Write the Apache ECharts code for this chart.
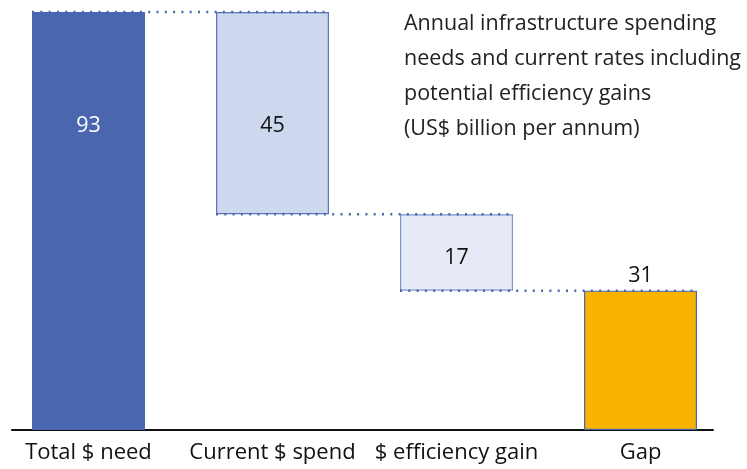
<!DOCTYPE html>
<html>
<head>
<meta charset="utf-8">
<script src="https://cdn.jsdelivr.net/npm/echarts@6/dist/echarts.min.js"></script>
<style>html,body{margin:0;padding:0;background:#fff}#c{width:747px;height:469px}</style>
</head>
<body>
<div id="c"></div>
<script>
var categories = ['Total $ need', 'Current $ spend', '$ efficiency gain', 'Gap'];
var barValues = [93, 45, 17, 31];
var baseValues = [0, 48, 31, 0];
// connectors: [fromCategoryIndex, toCategoryIndex, level]
var connectors = [[0, 1, 93], [1, 2, 48], [2, 3, 31]];
var titleLines = ['Annual infrastructure spending', 'needs and current rates including', 'potential efficiency gains', '(US$ billion per annum)'];

var FONT = '"Open Sans", "Noto Sans", sans-serif';
var BAR_RATIO = 113 / 184;
var fills = ['#4a66ae', '#cdd8ef', '#e6eaf6', '#f8b400'];
var borders = ['#4a66ae', '#5b74bd', '#7f93c9', '#4a66ae'];
var labelColors = ['#ffffff', '#111111', '#111111', '#111111'];

var chart = echarts.init(document.getElementById('c'), null, {renderer: 'canvas'});

var barData = barValues.map(function (v, i) {
  var lbl = {color: labelColors[i]};
  if (i === 0 || i === 1) { lbl.position = 'insideTop'; lbl.distance = 103; }
  else if (i === 2) { lbl.position = 'inside'; lbl.offset = [0, 5]; }
  else { lbl.position = 'top'; lbl.distance = 4; }
  return {
    value: v,
    itemStyle: {color: fills[i], borderColor: borders[i], borderWidth: i === 0 ? 0 : 1.2},
    label: lbl
  };
});

chart.setOption({
  animation: false,
  title: {
    text: titleLines.join('\n'),
    left: 399, top: 1,
    textStyle: {fontFamily: FONT, fontSize: 21.5, fontWeight: 'normal', color: '#222', lineHeight: 35}
  },
  grid: [
    {left: -3.5, right: 14.5, top: 12, bottom: 39, containLabel: false, outerBoundsMode: 'none'},
    {left: 12, right: 34, top: 12, bottom: 39, containLabel: false, outerBoundsMode: 'none'}
  ],
  xAxis: [
    {type: 'category', data: categories, gridIndex: 0,
     axisLine: {show: false}, axisTick: {show: false},
     axisLabel: {fontFamily: FONT, fontSize: 22, color: '#111', margin: 12, interval: 0}},
    {type: 'value', gridIndex: 1, min: 0, max: 1,
     axisLine: {show: true, lineStyle: {color: '#111', width: 2}},
     axisTick: {show: false}, axisLabel: {show: false}, splitLine: {show: false}}
  ],
  yAxis: [
    {type: 'value', gridIndex: 0, min: 0, max: 93, show: false, splitLine: {show: false}},
    {type: 'value', gridIndex: 1, min: 0, max: 93, show: false, splitLine: {show: false}}
  ],
  series: [
    {type: 'bar', stack: 'w', data: baseValues, barWidth: '61.4%',
     itemStyle: {color: 'transparent'}, silent: true, label: {show: false}},
    {type: 'bar', stack: 'w', data: barData, barWidth: '61.4%',
     label: {show: true, fontFamily: FONT, fontSize: 21.5}},
    {type: 'custom', data: connectors, z: 5,
     renderItem: function (params, api) {
       var from = api.value(0), to = api.value(1), lvl = api.value(2);
       var band = api.size([1, 0])[0];
       var half = band * BAR_RATIO / 2;
       var p1 = api.coord([from, lvl]);
       var p2 = api.coord([to, lvl]);
       return {
         type: 'line',
         shape: {x1: p1[0] - half, y1: p1[1], x2: p2[0] + half, y2: p2[1]},
         style: {stroke: '#4a66ae', lineWidth: 2.5, lineDash: [2, 6.3], lineCap: 'butt'}
       };
     }}
  ]
});
</script>
</body>
</html>
